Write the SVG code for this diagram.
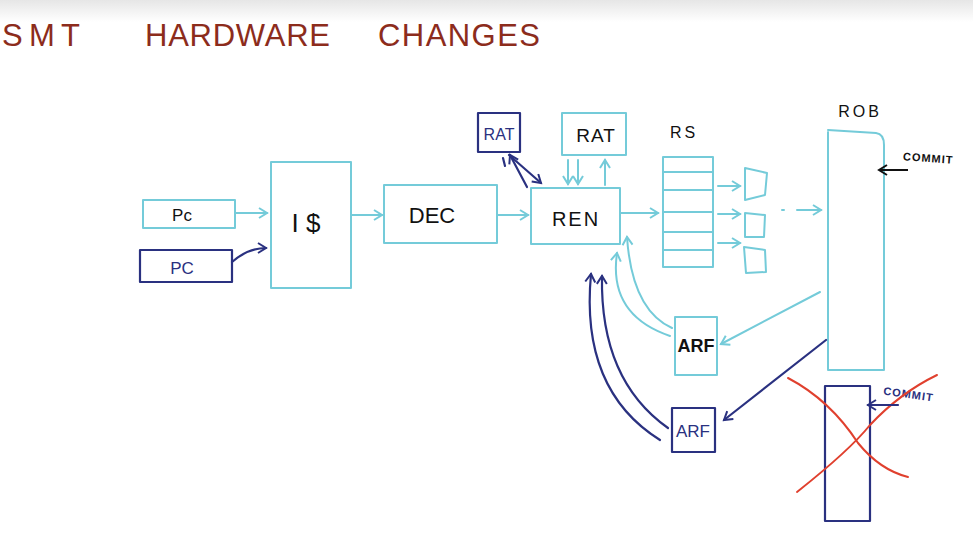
<svg xmlns="http://www.w3.org/2000/svg" width="973" height="540" viewBox="0 0 973 540">
<defs>
<linearGradient id="bg" x1="0" y1="0" x2="0" y2="1">
<stop offset="0" stop-color="#e6e6e6"/>
<stop offset="1" stop-color="#ffffff"/>
</linearGradient>
<marker id="ac" markerUnits="userSpaceOnUse" markerWidth="14" markerHeight="14" refX="9" refY="6" orient="auto">
<path d="M1,1 L9,6 L1,11" fill="none" stroke="#74cbd9" stroke-width="2"/>
</marker>
<marker id="ab" markerUnits="userSpaceOnUse" markerWidth="14" markerHeight="14" refX="9" refY="6" orient="auto">
<path d="M1,1 L9,6 L1,11" fill="none" stroke="#2a3180" stroke-width="2"/>
</marker>
<marker id="ak" markerUnits="userSpaceOnUse" markerWidth="14" markerHeight="14" refX="9" refY="6" orient="auto">
<path d="M1,1 L9,6 L1,11" fill="none" stroke="#111" stroke-width="2"/>
</marker>
</defs>
<style>
.c{fill:none;stroke:#74cbd9;stroke-width:2;stroke-linecap:round;stroke-linejoin:round}
.b{fill:none;stroke:#2a3180;stroke-width:2.2;stroke-linecap:round;stroke-linejoin:round}
.r{fill:none;stroke:#e0402e;stroke-width:2;stroke-linecap:round}
.t{font-family:"Liberation Sans",Arial,sans-serif;fill:#111;text-anchor:middle}
.tb{font-family:"Liberation Sans",Arial,sans-serif;fill:#2a3180;text-anchor:middle}
.title{font-family:"Liberation Sans",Arial,sans-serif;fill:#8c2c1c;font-size:31px}
</style>
<rect x="0" y="0" width="973" height="540" fill="#fff"/>
<rect x="0" y="0" width="973" height="22" fill="url(#bg)"/>
<text class="title" x="2" y="46" textLength="78" lengthAdjust="spacing">SMT</text>
<text class="title" x="145" y="46" textLength="185" lengthAdjust="spacing">HARDWARE</text>
<text class="title" x="378" y="46" textLength="162" lengthAdjust="spacing">CHANGES</text>

<g id="pc1"><rect class="c" x="143" y="200" width="92" height="28"/><text class="t" x="182" y="221" font-size="17">Pc</text></g>
<g id="pc2"><rect class="b" x="140" y="250" width="92" height="32"/><text class="tb" x="182" y="274" font-size="17">PC</text></g>
<g id="icache"><rect class="c" x="271" y="162" width="80" height="126"/><text class="t" x="306" y="232" font-size="26">I $</text></g>
<g id="dec"><rect class="c" x="384" y="185" width="113" height="58"/><text class="t" x="432" y="223" font-size="22">DEC</text></g>
<g id="ren"><rect class="c" x="531" y="188" width="89" height="56"/><text class="t" x="576" y="226" font-size="20" letter-spacing="2">REN</text></g>
<g id="rat1"><rect class="b" x="478" y="113" width="42" height="39"/><text class="tb" x="499" y="140" font-size="16">RAT</text></g>
<g id="rat2"><rect class="c" x="562" y="113" width="64" height="42"/><text class="t" x="596" y="142" font-size="19" letter-spacing="1">RAT</text></g>
<g id="rs"><text class="t" x="684" y="138" font-size="16" letter-spacing="3">RS</text>
<rect class="c" x="663" y="157" width="50" height="110"/>
<path class="c" d="M663,172 H713 M663,190 H713 M663,212 H713 M663,232 H713 M663,250 H713"/></g>
<g id="fu1"><path class="c" d="M745,168 L767,173 L765,195 L745,200 Z"/></g>
<g id="fu2"><path class="c" d="M745,213 L765,215 L764,237 L745,237 Z"/></g>
<g id="fu3"><path class="c" d="M744,247 L765,250 L766,272 L746,273 Z"/></g>
<g id="rob"><text class="t" x="860" y="117" font-size="16" letter-spacing="3">ROB</text>
<path class="c" d="M828,132 V370 H884 V145 Q884,134 876,133 L828,130"/>
<text class="t" x="928" y="162" font-size="11" font-weight="bold" letter-spacing="1" transform="rotate(4 928 162)">COMMIT</text></g>
<g id="arf1"><rect class="c" x="675" y="317" width="42" height="58"/><text class="t" x="696" y="352" font-size="18" font-weight="bold">ARF</text></g>
<g id="arf2"><rect class="b" x="672" y="408" width="43" height="44"/><text class="tb" x="693" y="437" font-size="17">ARF</text></g>
<g id="rob2"><rect class="b" x="825" y="386" width="45" height="135"/>
<text class="tb" x="908" y="398" font-size="11" font-weight="bold" letter-spacing="1" transform="rotate(8 908 398)">COMMIT</text>
<path class="r" d="M788,378 Q830,400 858,443 Q880,470 908,477"/>
<path class="r" d="M797,492 Q850,450 870,425 Q900,393 937,375"/></g>

<g id="connectors">
<path class="c" d="M235,213 H267" marker-end="url(#ac)"/>
<path class="b" d="M232,262 Q248,248 266,248" marker-end="url(#ab)"/>
<path class="c" d="M351,215 H382" marker-end="url(#ac)"/>
<path class="c" d="M497,215 H528" marker-end="url(#ac)"/>
<path class="c" d="M620,213 H658" marker-end="url(#ac)"/>
<path class="b" d="M509,155 L541,183" marker-end="url(#ab)"/>
<path class="b" d="M527,187 L510,155" marker-end="url(#ab)"/>
<path class="b" d="M503,158 L505,166"/>
<path class="c" d="M568,160 V184" marker-end="url(#ac)"/>
<path class="c" d="M578,160 V184" marker-end="url(#ac)"/>
<path class="c" d="M605,185 V160" marker-end="url(#ac)"/>
<path class="c" d="M718,186 H740" marker-end="url(#ac)"/>
<path class="c" d="M718,214 H740" marker-end="url(#ac)"/>
<path class="c" d="M718,243 H740" marker-end="url(#ac)"/>
<path class="c" d="M782,210 h2 M797,210 H821" marker-end="url(#ac)"/>
<path d="M908,170 H879" fill="none" stroke="#111" stroke-width="2" marker-end="url(#ak)"/>
<path class="b" d="M898,405 H868" marker-end="url(#ab)"/>
<path class="c" d="M820,292 L721,344" marker-end="url(#ac)"/>
<path class="c" d="M672,328 Q632,310 627,237" marker-end="url(#ac)"/>
<path class="c" d="M670,336 Q608,315 617,253" marker-end="url(#ac)"/>
<path class="b" d="M826,340 L724,420" marker-end="url(#ab)"/>
<path class="b" d="M668,428 Q600,380 602,276" marker-end="url(#ab)"/>
<path class="b" d="M660,440 Q580,390 591,274" marker-end="url(#ab)"/>
</g>
</svg>
